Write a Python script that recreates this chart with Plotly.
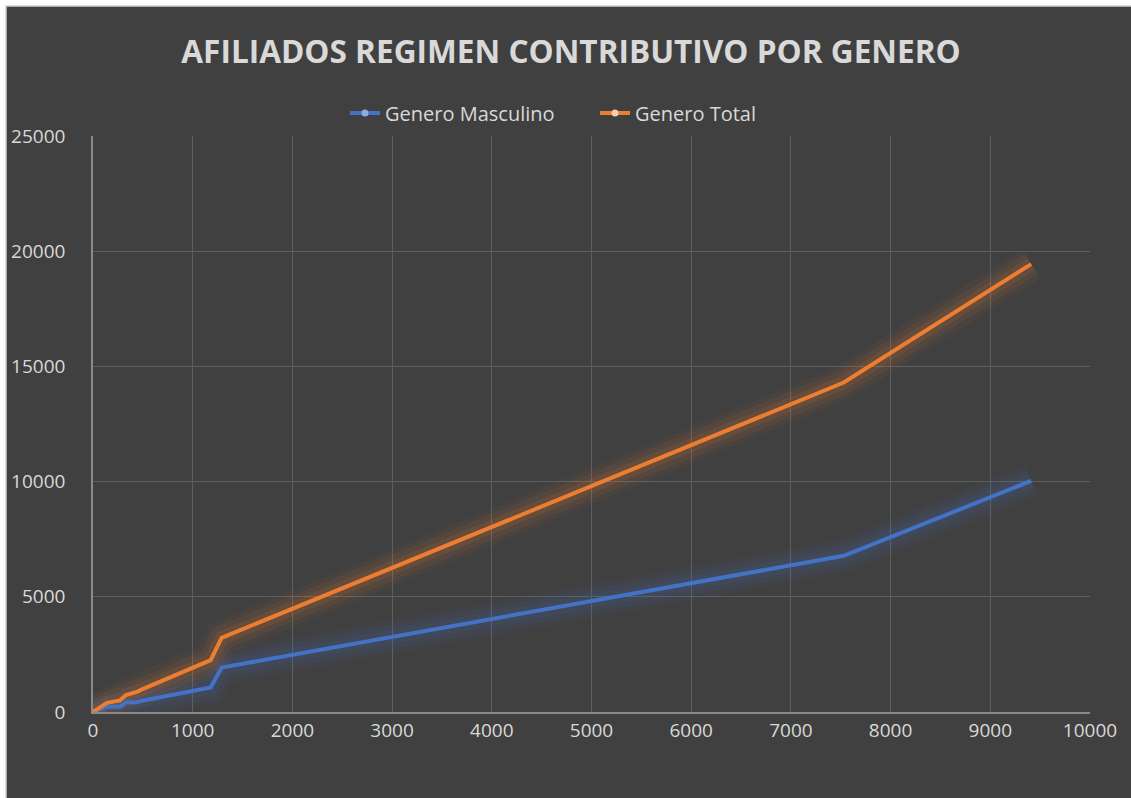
import plotly.graph_objects as go

# Data (x shared by both series)
x_vals = [0, 140, 270, 330, 440, 480, 1180, 1290, 7530, 9410]
masculino = [0, 240, 230, 410, 420, 480, 1070, 1930, 6780, 10030]
total = [0, 400, 500, 740, 870, 960, 2250, 3220, 14300, 19440]

x_ticks = list(range(0, 10001, 1000))
y_ticks = list(range(0, 25001, 5000))

BLUE = "#4472C4"
ORANGE = "#ED7D31"
BG = "#404040"
TXT = "#D9D9D9"

W, H = 1131, 798
L, R, T, B = 93, W - 1090, 136, H - 712

fig = go.Figure()

series = [("Genero Masculino", masculino, BLUE, "#8FAADC"),
          ("Genero Total", total, ORANGE, "#F8CBAD")]

# glow layers
for name, ys, col, light in series:
    for w, op in [(34, 0.05), (24, 0.07), (14, 0.10)]:
        fig.add_trace(go.Scatter(x=x_vals, y=ys, mode="lines",
                                 line=dict(color=col, width=w),
                                 opacity=op, showlegend=False, hoverinfo="skip"))

for name, ys, col, light in series:
    fig.add_trace(go.Scatter(x=x_vals, y=ys, mode="lines", name=name,
                             line=dict(color=col, width=4), showlegend=False))
    fig.add_trace(go.Scatter(x=[None], y=[None], mode="lines+markers", name=name,
                             line=dict(color=col, width=4),
                             marker=dict(color=light, size=7), showlegend=True))

# frame
px = lambda p: (p - L) / (W - L - R)
py = lambda p: (H - B - p) / (H - T - B)
fig.add_shape(type="rect", xref="paper", yref="paper",
              x0=px(6), x1=px(W + 10), y0=py(H + 10), y1=py(6),
              fillcolor=BG, line=dict(color="#D0D0D0", width=1.5), layer="below")

fig.update_layout(
    width=W, height=H,
    paper_bgcolor="white", plot_bgcolor=BG,
    margin=dict(l=L, r=R, t=T, b=B, autoexpand=False),
    font=dict(family="Open Sans, Calibri, sans-serif", color=TXT, size=19),
    title=dict(text="<b>AFILIADOS REGIMEN CONTRIBUTIVO POR GENERO</b>",
               x=571 / W, xref="container", xanchor="center", y=1 - 52 / H, yanchor="middle",
               font=dict(size=31.6, color=TXT, family="Open Sans, sans-serif")),
    legend=dict(orientation="h", x=px(345), xanchor="left", xref="paper",
                y=py(113), yanchor="middle", bgcolor="rgba(0,0,0,0)",
                font=dict(size=20, color=TXT), tracegroupgap=0, entrywidth=205),
    showlegend=True,
    xaxis=dict(range=[0, 10000], tickvals=x_ticks, ticktext=[str(v) for v in x_ticks],
               showgrid=True, gridcolor="#5E5E5E", gridwidth=1, zeroline=False,
               showline=True, linecolor="#8A8A8A", linewidth=1.5,
               ticks="", tickfont=dict(size=19, color=TXT), ticklabelstandoff=0),
    yaxis=dict(range=[0, 25000], tickvals=y_ticks, ticktext=[str(v) for v in y_ticks],
               showgrid=True, gridcolor="#5E5E5E", gridwidth=1, zeroline=False,
               showline=True, linecolor="#8A8A8A", linewidth=1.5,
               ticks="", tickfont=dict(size=19, color=TXT), ticklabelstandoff=22),
)

fig.write_html("out.html", config={"displayModeBar": False},
               post_script="document.body.style.margin='0';document.body.style.overflow='hidden';")
